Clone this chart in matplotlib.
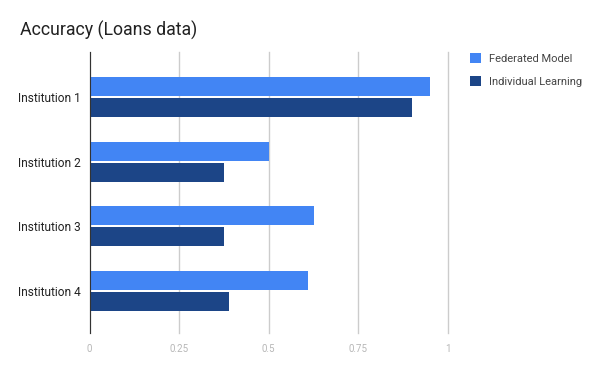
import matplotlib.pyplot as plt
import numpy as np

plt.rcParams['font.family'] = ['Roboto', 'DejaVu Sans']

institutions = ['Institution 1', 'Institution 2', 'Institution 3', 'Institution 4']
federated = [0.95, 0.50, 0.625, 0.61]
individual = [0.90, 0.375, 0.375, 0.39]
xticks = [0, 0.25, 0.5, 0.75, 1]
xticklabels = ['0', '0.25', '0.5', '0.75', '1']

c_fed = '#4285f4'
c_ind = '#1c4587'

fig = plt.figure(figsize=(6, 3.71), dpi=100)
ax = fig.add_axes([89.5/600, 1-333/371, (448-89.5)/600, (333-52)/371])

y = np.arange(len(institutions))
h = 0.294
off = 0.162
ax.barh(y - off, federated, height=h, color=c_fed, label='Federated Model')
ax.barh(y + off, individual, height=h, color=c_ind, label='Individual Learning')

ax.set_xlim(0, 1)
ax.set_ylim(3.65, -0.696)
ax.set_xticks(xticks)
ax.set_xticklabels(xticklabels, color='#b7b7b7', fontsize=7)
ax.set_yticks(y)
ax.set_yticklabels(institutions, color='#222222', fontsize=8.6)
ax.tick_params(axis='both', length=0)
ax.tick_params(axis='x', pad=8)
ax.tick_params(axis='y', pad=6)
ax.grid(axis='x', color='#cccccc', linewidth=1)
for gl in ax.get_xgridlines():
    gl.set_clip_on(False)
ax.set_axisbelow(True)
for s in ['top', 'right', 'bottom']:
    ax.spines[s].set_visible(False)
ax.spines['left'].set_color('#333333')
ax.spines['left'].set_zorder(3)

fig.text(20/600, 1-30/371, 'Accuracy (Loans data)', fontsize=12.8, color='#222222', va='center')

leg = fig.legend(loc='upper left', bbox_to_anchor=(460/600, 1-43/371), frameon=False,
                 fontsize=8, handlelength=1.0, handleheight=1.0, handletextpad=0.75,
                 labelspacing=1.1, labelcolor='#444444')

fig.savefig('out.png', dpi=100)
